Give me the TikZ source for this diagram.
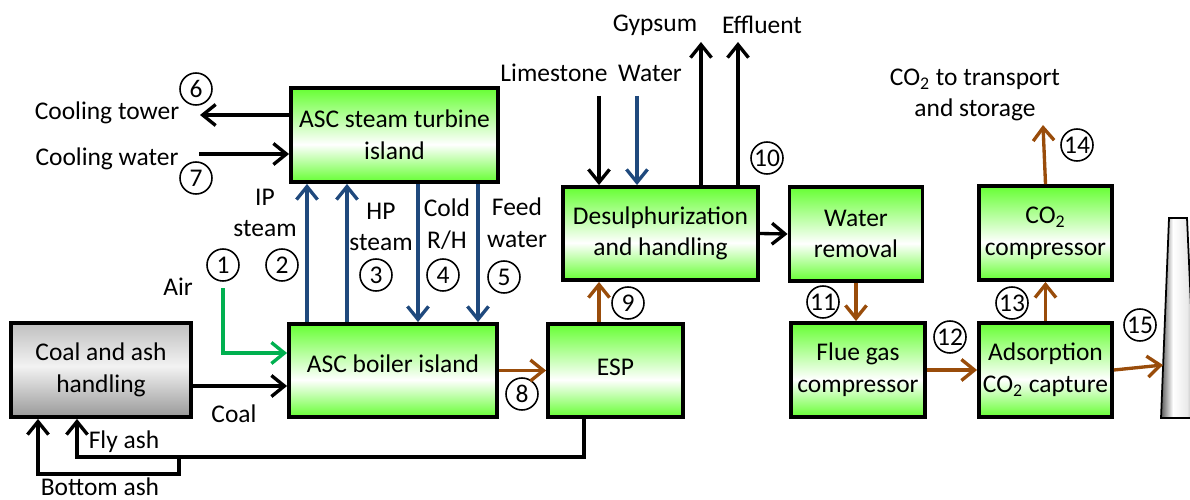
\documentclass[tikz,border=0pt]{standalone}
\usepackage{fontspec}
\setmainfont{Carlito}
\usepackage{tikz}
\usetikzlibrary{
  arrows.meta,
  positioning,
  calc
}
\usepackage{xcolor}
\definecolor{boxgreen}{RGB}{102,255,51}
\definecolor{steamblue}{RGB}{31,73,125}
\definecolor{gasbrown}{RGB}{153,76,10}
\definecolor{airgreen}{RGB}{0,176,80}
\pgfdeclareverticalshading{greenbox}{100bp}{color(0bp)=(boxgreen); color(25bp)=(boxgreen);
  color(45bp)=(white); color(75bp)=(boxgreen); color(100bp)=(boxgreen)}
\pgfdeclareverticalshading{graybox}{100bp}{color(0bp)=(black!40); color(25bp)=(black!40);
  color(52bp)=(black!5); color(75bp)=(black!25); color(100bp)=(black!25)}
\pgfdeclarehorizontalshading{stackshade}{100bp}{color(0bp)=(black!65); color(25bp)=(black!65);
  color(42bp)=(white); color(62bp)=(black!8); color(75bp)=(black!40); color(100bp)=(black!40)}
\newcommand{\cotwo}{CO\textsubscript{2}}
\tikzset{
  unit box/.style 2 args={
    draw=black, line width=2.2pt, shading=greenbox,
    minimum width=#1*0.02cm, minimum height=#2*0.02cm,
    align=center, inner sep=0pt
  },
  ash box/.style 2 args={
    unit box={#1}{#2}, shading=graybox
  },
  flow arrow/.style={
    -{Straight Barb[length=2.6mm, width=4.2mm]}, line width=1.9pt, draw=black
  },
  steam arrow/.style={
    flow arrow, draw=steamblue
  },
  gas arrow/.style={
    flow arrow, draw=gasbrown
  },
  air arrow/.style={
    flow arrow, draw=airgreen
  },
  stream no/.style={
    draw, circle, line width=0.9pt, minimum size=0.64cm, inner sep=0pt
  },
  label text/.style={
    align=center, inner sep=0pt
  },
}
\begin{document}
\begin{tikzpicture}[x=0.02cm, y=-0.02cm, font=\fontsize{14.5}{18}\selectfont]
  \useasboundingbox (0,0) rectangle (1190,500);

  % Process units
  \node[unit box={207}{94}] (turbine) at (394.5,135) {ASC steam turbine\\island};
  \node[unit box={208}{93}] (boiler) at (393,370.5) {\raisebox{0.28cm}{ASC boiler island}};
  \node[ash box={180}{94}] (coal) at (101,370) {Coal and ash\\handling};
  \node[unit box={135}{93}] (esp) at (615.5,370.5) {\raisebox{0.14cm}{ESP}};
  \node[unit box={195}{93}] (desulph) at (660.5,233.5) {Desulphurization\\and handling};
  \node[unit box={133}{94}] (wrem) at (856,234) {Water\\removal};
  \node[unit box={134}{94}] (flue) at (858,370) {Flue gas\\compressor};
  \node[unit box={133}{94}] (co2comp) at (1045.5,233) {\cotwo\\compressor};
  \node[unit box={133}{94}] (adsorp) at (1045.5,370) {Adsorption\\\cotwo{} capture};

  % Stack
  \shade[shading=stackshade, draw=black, line width=1pt]
    (1169,218) -- (1187,218) -- (1196,418) -- (1161,418) -- cycle;
  \coordinate (stackin) at (1163,365);

  % Labels
  \node[label text] (ctower) at (107,113) {Cooling tower};
  \node[label text] (cwater) at (107,159) {Cooling water};
  \node[label text] (ipl) at (265,213) {IP\\steam};
  \node[label text] (hpl) at (381,227) {HP\\steam};
  \node[label text] (rhl) at (447,224) {Cold\\R/H};
  \node[label text] (fwl) at (517,223) {Feed\\water};
  \node[label text] (airl) at (178,287) {Air};
  \node[label text] (coall) at (234,414) {Coal};
  \node[label text] (flyl) at (124,442) {Fly ash};
  \node[label text] (bottoml) at (100,487) {Bottom ash};
  \node[label text] (limel) at (554,73) {Limestone};
  \node[label text] (waterl) at (650,73) {Water};
  \node[label text] (gypl) at (655,25) {Gypsum};
  \node[label text] (effl) at (762,25) {Effluent};
  \node[label text] (storel) at (975,95) {\cotwo{} to transport\\and storage};

  % Stream numbers
  \foreach \n/\x/\y in {1/223/265, 2/282/265, 3/376/275, 4/443/275, 5/504/277,
                        6/196/89, 7/196/178, 8/522/394, 9/628/303, 10/767/158,
                        11/823/302, 12/950/337, 13/1012/303, 14/1077/145, 15/1140/325}
    \node[stream no] (c\n) at (\x,\y) {\n};

  % Free ends and routing points
  \coordinate (ctend) at (200,115);
  \coordinate (cwstart) at (199,154);
  \coordinate (ipx) at (307,0);
  \coordinate (hpx) at (347,0);
  \coordinate (rhx) at (418,0);
  \coordinate (fwx) at (478,0);
  \coordinate (airstart) at (223,288);
  \coordinate (airy) at (0,353);
  \coordinate (coaly) at (0,386);
  \coordinate (limestart) at (599,96);
  \coordinate (waterstart) at (637,96);
  \coordinate (gypend) at (701,42);
  \coordinate (effend) at (738,42);
  \coordinate (co2end) at (1043,125);
  \coordinate (flyx) at (584,0);
  \coordinate (flyy) at (0,457);
  \coordinate (flyin) at (77,0);
  \coordinate (bottomsplit) at (179,457);
  \coordinate (bottomin) at (38,474);

  % Cooling
  \draw[flow arrow] (turbine.west |- ctend) -- (ctend);
  \draw[flow arrow] (cwstart) -- (turbine.west |- cwstart);

  % Steam loop
  \draw[steam arrow] (boiler.north -| ipx) -- (turbine.south -| ipx);
  \draw[steam arrow] (boiler.north -| hpx) -- (turbine.south -| hpx);
  \draw[steam arrow] (turbine.south -| rhx) -- (boiler.north -| rhx);
  \draw[steam arrow] (turbine.south -| fwx) -- (boiler.north -| fwx);

  % Air and coal
  \draw[air arrow] (airstart) |- (boiler.west |- airy);
  \draw[flow arrow] (coal.east |- coaly) -- (boiler.west |- coaly);

  % Flue gas path
  \draw[gas arrow] (boiler.east) -- (esp.west);
  \draw[gas arrow] (esp.north -| limestart) -- (desulph.south -| limestart);
  \draw[flow arrow] (desulph.east) -- (wrem.west);
  \draw[gas arrow] (wrem.south) -- (wrem.south |- flue.north);
  \draw[gas arrow] (flue.east) -- (flue.east -| adsorp.west);
  \draw[gas arrow] (adsorp.north -| co2comp.south) -- (co2comp.south);
  \draw[gas arrow] (co2comp.north) -- (co2end);
  \draw[gas arrow] (adsorp.east) -- (stackin);

  % Desulphurization streams
  \draw[flow arrow] (limestart) -- (desulph.north -| limestart);
  \draw[steam arrow] (waterstart) -- (desulph.north -| waterstart);
  \draw[flow arrow] (desulph.north -| gypend) -- (gypend);
  \draw[flow arrow] (desulph.north -| effend) -- (effend);

  % Ash return
  \draw[flow arrow] (esp.south -| flyx) |- (flyy -| flyin) -- (coal.south -| flyin);
  \draw[flow arrow] (bottomsplit) |- (bottomin) -- (coal.south -| bottomin);

\end{tikzpicture}
\end{document}
